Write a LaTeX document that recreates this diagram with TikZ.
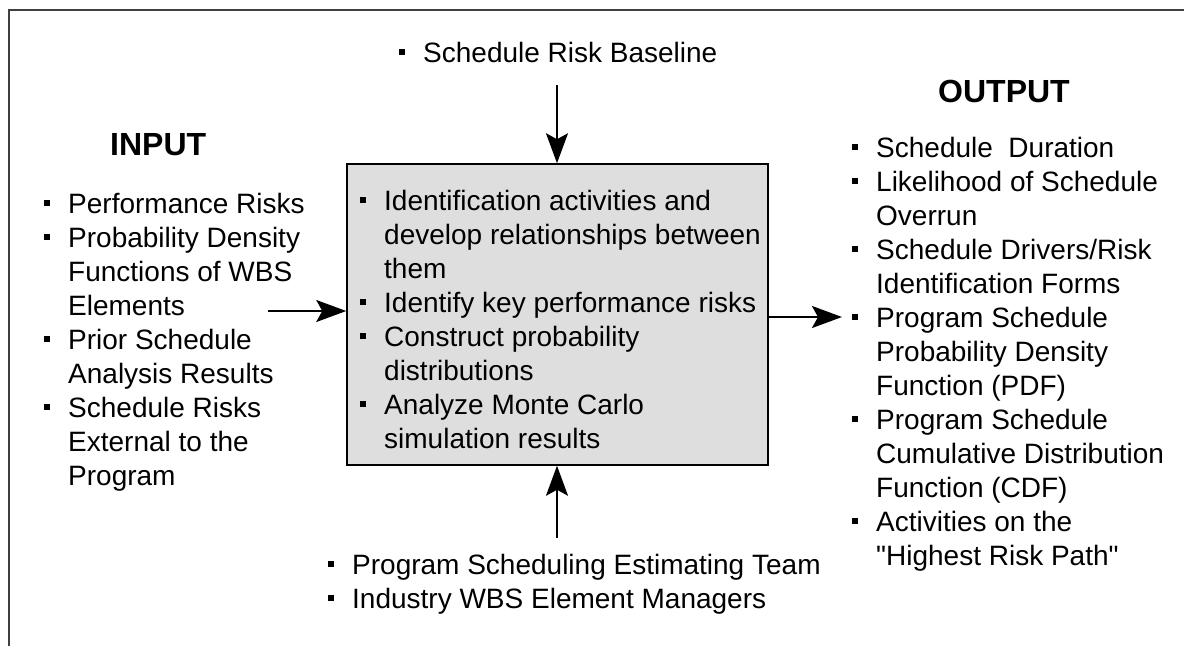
\documentclass[tikz,border=0pt]{standalone}
\usepackage{fontspec}
\newfontfamily\arialfont{Liberation Sans}
\setmainfont{Liberation Sans}
\usetikzlibrary{arrows.meta}
\newcommand{\bul}{\rule[7pt]{6pt}{6pt}\hspace*{18pt}}
\newcommand{\ind}{\hspace*{24pt}}
\begin{document}
\begin{tikzpicture}[x=1pt,y=-1pt,
  listtext/.style={anchor=north west,inner sep=0pt,align=left,
    font=\arialfont\fontsize{28pt}{34pt}\selectfont},
  headtext/.style={anchor=base west,inner sep=0pt,
    font=\arialfont\fontsize{32pt}{38pt}\selectfont\bfseries},
  flow/.style={line width=2pt,-{Stealth[length=30pt,width=22pt,inset=6pt]}},
  procbox/.style={draw=black,line width=1.5pt,fill=black!13,inner sep=0pt,
    minimum width=421pt,minimum height=301pt}
]
\useasboundingbox (0,0) rectangle (1184,646);
% outer frame
\draw[line width=2pt,black!75] (9,646) -- (9,10) -- (1184,10);

% central process box
\node[procbox] (box) at (557.5,314.5) {};
\node[listtext] (boxtext) at (360,190) {%
\bul Identification activities and\\
\ind develop relationships between\\
\ind them\\
\bul Identify key performance risks\\
\bul Construct probability\\
\ind distributions\\
\bul Analyze Monte Carlo\\
\ind simulation results};

% headings
\node[headtext] (inhead) at (110,155) {INPUT};
\node[headtext] (outhead) at (938,102) {OUTPUT};

% top control
\node[listtext] (ctrl) at (399,42) {\bul Schedule Risk Baseline};

% inputs
\node[listtext] (inputs) at (44,193) {%
\bul Performance Risks\\
\bul Probability Density\\
\ind Functions of WBS\\
\ind Elements\\
\bul Prior Schedule\\
\ind Analysis Results\\
\bul Schedule Risks\\
\ind External to the\\
\ind Program};

% outputs
\node[listtext] (outputs) at (852,137) {%
\bul Schedule\ \ Duration\\
\bul Likelihood of Schedule\\
\ind Overrun\\
\bul Schedule Drivers/Risk\\
\ind Identification Forms\\
\bul Program Schedule\\
\ind Probability Density\\
\ind Function (PDF)\\
\bul Program Schedule\\
\ind Cumulative Distribution\\
\ind Function (CDF)\\
\bul Activities on the\\
\ind "Highest Risk Path"};

% mechanisms
\node[listtext] (mech) at (328,554) {%
\bul Program Scheduling Estimating Team\\
\bul Industry WBS Element Managers};

% connectors
\coordinate (inStart) at (268,311);
\coordinate (outEnd) at (842,317);
\coordinate (topStart) at (557,85);
\coordinate (botStart) at (557,538);
\draw[flow] (inStart) -- (inStart -| box.west);
\draw[flow] (box.east |- outEnd) -- (outEnd);
\draw[flow] (topStart) -- (topStart |- box.north);
\draw[flow] (botStart) -- (botStart |- box.south);
\end{tikzpicture}
\end{document}
